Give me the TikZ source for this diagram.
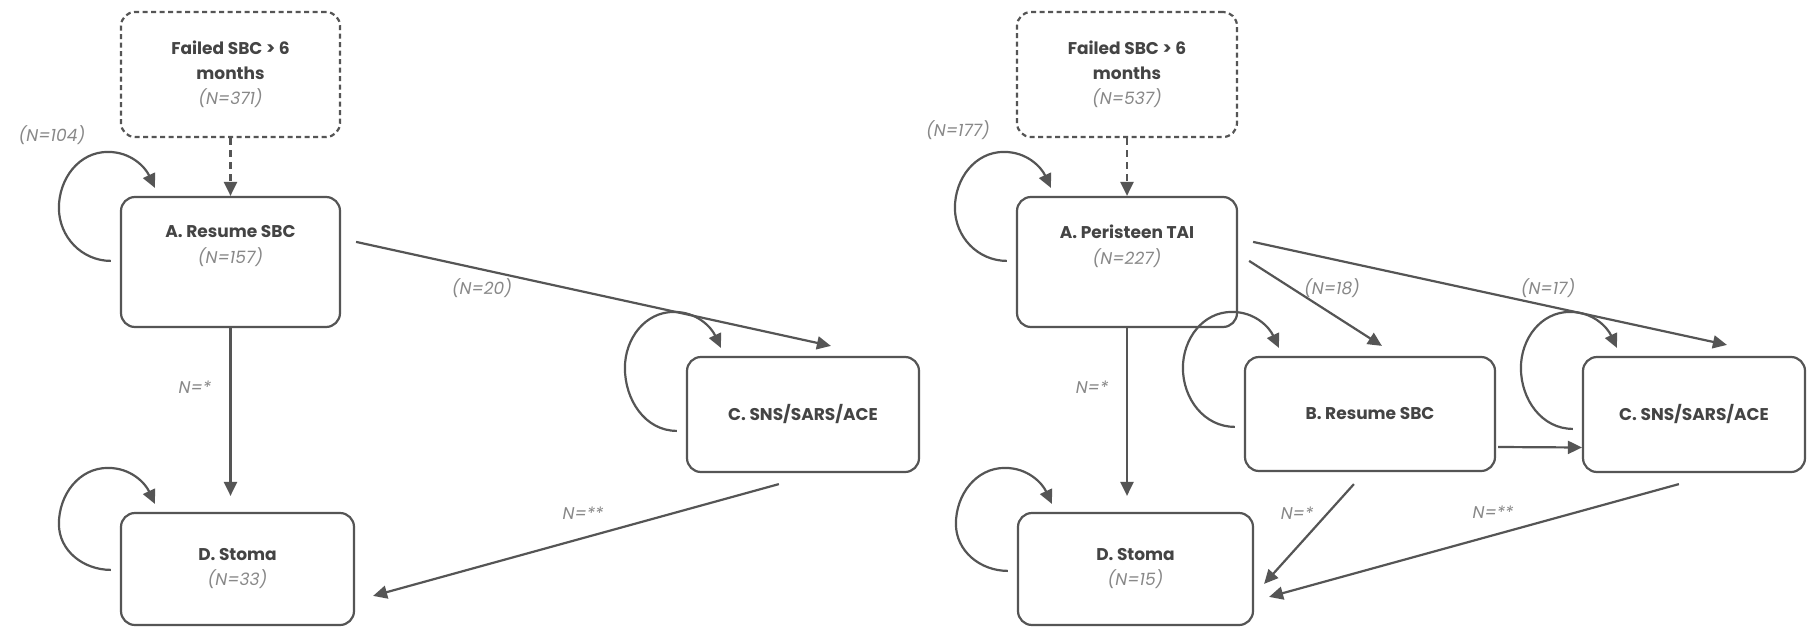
\documentclass[tikz,border=0pt]{standalone}
\usepackage{fontspec}
\setmainfont{Poppins}
\usetikzlibrary{arrows.meta,calc}
\definecolor{ln}{HTML}{555555}
\definecolor{tx}{HTML}{444444}
\definecolor{nl}{HTML}{888888}
\newcommand{\nn}[1]{{\mdseries\itshape\color{nl}#1}}
\newcommand{\selfloop}[2]{%
  \draw[arr] ($(#1.north west)+(-9,#2)$) to[out=180,in=270]
    ($(#1.north west)+(-61,12)$) to[out=90,in=180]
    ($(#1.north west)+(-12,-44)$) to[out=0,in=115]
    ($(#1.north west)+(35,-8)$);}
\begin{document}
\begin{tikzpicture}[x=1pt,y=-1pt,
  box/.style={draw=ln, line width=2.2pt, rounded corners=14pt, inner sep=0pt,
    font=\fontsize{17}{25}\selectfont\bfseries, text=tx, align=center},
  fbox/.style={box, dash pattern=on 5pt off 3.5pt},
  btext/.style={font=\fontsize{17}{26}\selectfont\bfseries, text=tx, align=center, inner sep=0pt},
  arr/.style={draw=ln, line width=2.2pt, -{Triangle[length=14pt,width=13pt]}},
  darr/.style={arr, dash pattern=on 7pt off 5pt},
  nlab/.style={font=\fontsize{17}{20}\selectfont\itshape, text=nl, inner sep=0pt}]
\useasboundingbox (0,0) rectangle (1807,629);
\fill[white] (0,0) rectangle (1807,629);

% ---------- left diagram ----------
\node[fbox, minimum width=219pt, minimum height=125pt] (F1) at (230.5,74.5)
  {Failed SBC > 6\\months\\\nn{(N=371)}};
\node[box, minimum width=219pt, minimum height=130pt] (A1) at (230.5,262) {};
\node[btext] (A1t) at (230.5,246) {A. Resume SBC\\\nn{(N=157)}};
\node[box, minimum width=232pt, minimum height=115pt] (C1) at (803,414.5) {C. SNS/SARS/ACE};
\node[box, minimum width=233pt, minimum height=112pt] (D1) at (237.5,569)
  {D. Stoma\\\nn{(N=33)}};

\draw[darr] (F1.south) -- (A1.north);
\draw[arr] (A1.south) -- ($(A1.south |- D1.north)+(0,-16)$);
\draw[arr] ($(A1.north east)+(15,46)$) -- ($(C1.north west)+(145,-10)$);
\draw[arr] ($(C1.south west)+(93,11)$) -- ($(D1.north east)+(18,84)$);
\selfloop{A1}{65}
\selfloop{C1}{75}
\selfloop{D1}{58}

\node[nlab] (l104) at (52,135) {(N=104)};
\node[nlab] (l20) at (482,288) {(N=20)};
\node[nlab] (lAD1) at (195,387) {N=*};
\node[nlab] (lCD1) at (583,513) {N=**};

% ---------- right diagram ----------
\node[fbox, minimum width=220pt, minimum height=125pt] (F2) at (1127,74.5)
  {Failed SBC > 6\\months\\\nn{(N=537)}};
\node[box, minimum width=220pt, minimum height=130pt] (A2) at (1127,262) {};
\node[btext] (A2t) at (1127,246) {A. Peristeen TAI\\\nn{(N=227)}};
\node[box, minimum width=250pt, minimum height=114pt] (B2) at (1370,414) {B. Resume SBC};
\node[box, minimum width=222pt, minimum height=115pt] (C2) at (1694,414.5) {C. SNS/SARS/ACE};
\node[box, minimum width=235pt, minimum height=112pt] (D2) at (1135.5,569)
  {D. Stoma\\\nn{(N=15)}};

\draw[darr] (F2.south) -- (A2.north);
\draw[arr] (A2.south) -- ($(A2.south |- D2.north)+(0,-16)$);
\draw[arr] ($(A2.north east)+(11,65)$) -- ($(B2.north west)+(138,-10)$);
\draw[arr] ($(A2.north east)+(15,46)$) -- ($(C2.north west)+(145,-11)$);
\draw[arr] ($(B2.east)+(2,33)$) -- ($(C2.west)+(0,33)$);
\draw[arr] ($(B2.south west)+(110,12)$) -- ($(D2.north east)+(10,72)$);
\draw[arr] ($(C2.south west)+(97,11)$) -- ($(D2.north east)+(15,85)$);
\selfloop{A2}{65}
\selfloop{B2}{71}
\selfloop{C2}{73}
\selfloop{D2}{59}

\node[nlab] (l177) at (958,130) {(N=177)};
\node[nlab] (l18) at (1332,288) {(N=18)};
\node[nlab] (l17) at (1548,288) {(N=17)};
\node[nlab] (lAD2) at (1092,387) {N=*};
\node[nlab] (lBD2) at (1297,513) {N=*};
\node[nlab] (lCD2) at (1493,512) {N=**};
\end{tikzpicture}
\end{document}
